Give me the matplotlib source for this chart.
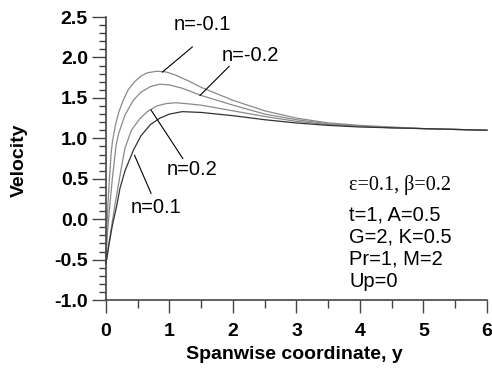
import matplotlib
matplotlib.use("Agg")
import matplotlib.pyplot as plt
from matplotlib.ticker import MultipleLocator

# curves (x = spanwise coordinate, u = velocity)
x_m01 = [0, 0.01, 0.03, 0.05, 0.08, 0.1, 0.15, 0.2, 0.27, 0.35, 0.45, 0.55,
         0.65, 0.8, 0.95, 1.1, 1.3, 1.5, 1.75, 2.0, 2.5, 3.0, 3.5, 4.0, 4.5,
         5.0, 5.5, 6.0]
u_m01 = [-0.55, -0.2, 0.17, 0.45, 0.8, 0.95, 1.17, 1.32, 1.47, 1.6, 1.7, 1.77,
         1.81, 1.83, 1.82, 1.78, 1.71, 1.63, 1.55, 1.47, 1.34, 1.25, 1.19,
         1.16, 1.14, 1.12, 1.11, 1.1]

x_m02 = [0, 0.02, 0.06, 0.1, 0.16, 0.2, 0.3, 0.43, 0.55, 0.7, 0.85, 1.0, 1.2,
         1.5, 1.75, 2.0, 2.5, 3.0, 3.5, 4.0, 4.5, 5.0, 5.5, 6.0]
u_m02 = [-0.55, -0.2, 0.17, 0.5, 0.92, 1.06, 1.29, 1.47, 1.57, 1.64, 1.67,
         1.66, 1.62, 1.53, 1.47, 1.41, 1.3, 1.23, 1.18, 1.15, 1.13, 1.12,
         1.11, 1.1]

x_p02 = [0, 0.05, 0.1, 0.14, 0.19, 0.25, 0.3, 0.4, 0.53, 0.65, 0.8, 0.95,
         1.1, 1.25, 1.5, 2.0, 2.5, 3.0, 3.5, 4.0, 4.5, 5.0, 5.5, 6.0]
u_p02 = [-0.55, -0.28, -0.03, 0.17, 0.4, 0.67, 0.88, 1.1, 1.24, 1.33, 1.4,
         1.43, 1.44, 1.43, 1.41, 1.34, 1.27, 1.21, 1.17, 1.15, 1.13, 1.12,
         1.11, 1.1]

x_p01 = [0, 0.05, 0.1, 0.17, 0.22, 0.3, 0.43, 0.55, 0.7, 0.85, 1.0, 1.2,
         1.5, 2.0, 2.5, 3.0, 3.5, 4.0, 4.5, 5.0, 5.5, 6.0]
u_p01 = [-0.55, -0.3, -0.08, 0.17, 0.38, 0.6, 0.85, 1.03, 1.17, 1.25, 1.3,
         1.33, 1.32, 1.28, 1.23, 1.19, 1.16, 1.14, 1.13, 1.12, 1.11, 1.1]

# labels: text, text position, leader start, leader end
labels = ["n=-0.1", "n=-0.2", "n=0.2", "n=0.1"]
label_xy = [(1.52, 2.41), (2.28, 2.03), (1.36, 0.61), (0.79, 0.14)]
leader_from = [(1.36, 2.13), (1.94, 1.89), (1.21, 0.75), (0.71, 0.32)]
leader_to = [(0.89, 1.82), (1.48, 1.53), (0.71, 1.35), (0.45, 0.79)]

params = ["t=1, A=0.5", "G=2, K=0.5", "Pr=1, M=2", "Up=0"]

SANS = ["Liberation Sans", "DejaVu Sans"]
plt.rcParams["font.family"] = SANS

fig = plt.figure(figsize=(4.92, 3.70), dpi=100)
ax = fig.add_axes([0.2154, 0.189, 0.7744, 0.765])

grey = "#8a8a8a"
ax.plot(x_m01, u_m01, color=grey, lw=0.9)
ax.plot(x_m02, u_m02, color=grey, lw=0.9)
ax.plot(x_p02, u_p02, color=grey, lw=0.9)
ax.plot(x_p01, u_p01, color="#333333", lw=0.9)

for txt, (tx, ty), p0, p1 in zip(labels, label_xy, leader_from, leader_to):
    ax.text(tx, ty, txt, fontsize=14.5, ha="center", va="center")
    ax.plot([p0[0], p1[0]], [p0[1], p1[1]], color="black", lw=0.8)

ax.text(3.83, 0.42, "\u03b5=0.1, \u03b2=0.2", fontsize=14.5,
        family=["Liberation Serif", "DejaVu Serif"], va="center")
for i, s in enumerate(params):
    ax.text(3.83, 0.05 - 0.272 * i, s, fontsize=14.5, va="center")

ax.set_xlim(0, 6)
ax.set_ylim(-1.0, 2.5)
ax.xaxis.set_major_locator(MultipleLocator(1))
ax.xaxis.set_minor_locator(MultipleLocator(0.5))
ax.yaxis.set_minor_locator(MultipleLocator(0.1))
ax.set_yticks([-1.0, -0.5, 0.0, 0.5, 1.0, 1.5, 2.0, 2.5])
ax.set_yticklabels(["-1.0", "-0.5", "0.0", "0.5", "1.0", "1.5", "2.0", "2.5"])

for side in ["top", "right"]:
    ax.spines[side].set_visible(False)
for side in ["left", "bottom"]:
    ax.spines[side].set_color("#444444")
    ax.spines[side].set_linewidth(1.2)

ax.tick_params(axis="both", which="both", direction="out", color="#444444",
               width=1.0, labelsize=14)
ax.tick_params(axis="y", which="major", length=10, pad=3)
ax.tick_params(axis="y", which="minor", length=5)
ax.tick_params(axis="x", which="major", length=9.5, pad=7)
ax.tick_params(axis="x", which="minor", length=6)
for lab in ax.get_xticklabels() + ax.get_yticklabels():
    lab.set_fontweight("bold")

ax.set_xlabel("Spanwise coordinate, y", fontsize=14, fontweight="bold")
ax.set_ylabel("Velocity", fontsize=14, fontweight="bold")
ax.xaxis.set_label_coords(0.495, -0.163)
ax.xaxis.label.set_va("top")
ax.yaxis.set_label_coords(-0.206, 0.495)

for line in ax.lines:
    line.set_clip_on(False)

fig.savefig("out.png", dpi=100)
